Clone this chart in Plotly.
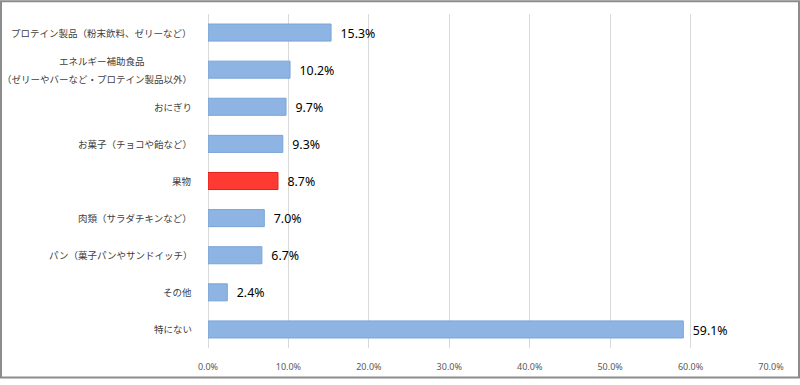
import plotly.graph_objects as go

categories = [
    "プロテイン製品（粉末飲料、ゼリーなど）",
    "エネルギー補助食品<br>（ゼリーやバーなど・プロテイン製品以外）",
    "おにぎり",
    "お菓子（チョコや飴など）",
    "果物",
    "肉類（サラダチキンなど）",
    "パン（菓子パンやサンドイッチ）",
    "その他",
    "特にない",
]
values = [15.3, 10.2, 9.7, 9.3, 8.7, 7.0, 6.7, 2.4, 59.1]
highlight = "果物"
x_ticks = [0, 10, 20, 30, 40, 50, 60, 70]
x_ticklabels = ["0.0%", "10.0%", "20.0%", "30.0%", "40.0%", "50.0%", "60.0%", "70.0%"]

W, H = 800, 385
ML, MR, MT, MB = 208, 29, 14, 31

fill = ["#FF3A33" if c == highlight else "#8DB4E2" for c in categories]
edge = ["#E0201A" if c == highlight else "#7AA5D8" for c in categories]

fig = go.Figure(go.Bar(
    x=values,
    y=categories,
    orientation="h",
    marker=dict(color=fill, line=dict(color=edge, width=1)),
    texttemplate="\u00a0\u00a0%{x:.1f}%",
    textposition="outside",
    textfont=dict(family="Noto Sans, Open Sans, sans-serif", size=14.5, color="#000000"),
    cliponaxis=False,
    width=0.46,
    hoverinfo="skip",
))

label_font = dict(family="Noto Sans CJK JP", size=9.5, color="#404040")
annotations = []
for c in categories:
    lines = c.split("<br>")
    if len(lines) == 1:
        annotations.append(dict(
            x=0, xref="paper", y=c, yref="y", text=c, showarrow=False,
            xanchor="right", yanchor="middle", xshift=-14, font=label_font,
        ))
    else:
        # two-line label: second line right-aligned, first line centred over it
        annotations.append(dict(
            x=0, xref="paper", y=c, yref="y", text=lines[0], showarrow=False,
            xanchor="center", yanchor="middle", xshift=-106, yshift=9, font=label_font,
        ))
        annotations.append(dict(
            x=0, xref="paper", y=c, yref="y", text=lines[1], showarrow=False,
            xanchor="right", yanchor="middle", xshift=-14, yshift=-9, font=label_font,
        ))

pw = W - ML - MR
ph = H - MT - MB
shapes = [dict(
    type="rect", xref="paper", yref="paper",
    x0=(-ML + 1) / pw, x1=(W - ML - 1) / pw,
    y0=(-MB + 1) / ph, y1=1 + (MT - 1) / ph,
    line=dict(color="#8C8C8C", width=2), fillcolor="rgba(0,0,0,0)", layer="above",
)]

fig.update_layout(
    width=W, height=H, autosize=False,
    margin=dict(l=ML, r=MR, t=MT, b=MB),
    paper_bgcolor="white", plot_bgcolor="white",
    showlegend=False,
    annotations=annotations,
    shapes=shapes,
    xaxis=dict(
        range=[0, 70], tickvals=x_ticks, ticktext=x_ticklabels,
        showgrid=True, gridcolor="#D9D9D9", gridwidth=1,
        zeroline=True, zerolinecolor="#D9D9D9", zerolinewidth=1,
        showline=False, ticks="outside", ticklen=10, tickcolor="rgba(0,0,0,0)",
        tickfont=dict(family="Noto Sans, sans-serif", size=9, color="#595959"),
        fixedrange=True,
    ),
    yaxis=dict(
        autorange="reversed", showticklabels=False, showgrid=False,
        showline=False, ticks="", fixedrange=True,
    ),
)

fig.write_html(
    "out.html",
    config={"responsive": False, "displayModeBar": False},
    post_script="document.body.style.margin='0';document.body.style.overflow='hidden';",
)
